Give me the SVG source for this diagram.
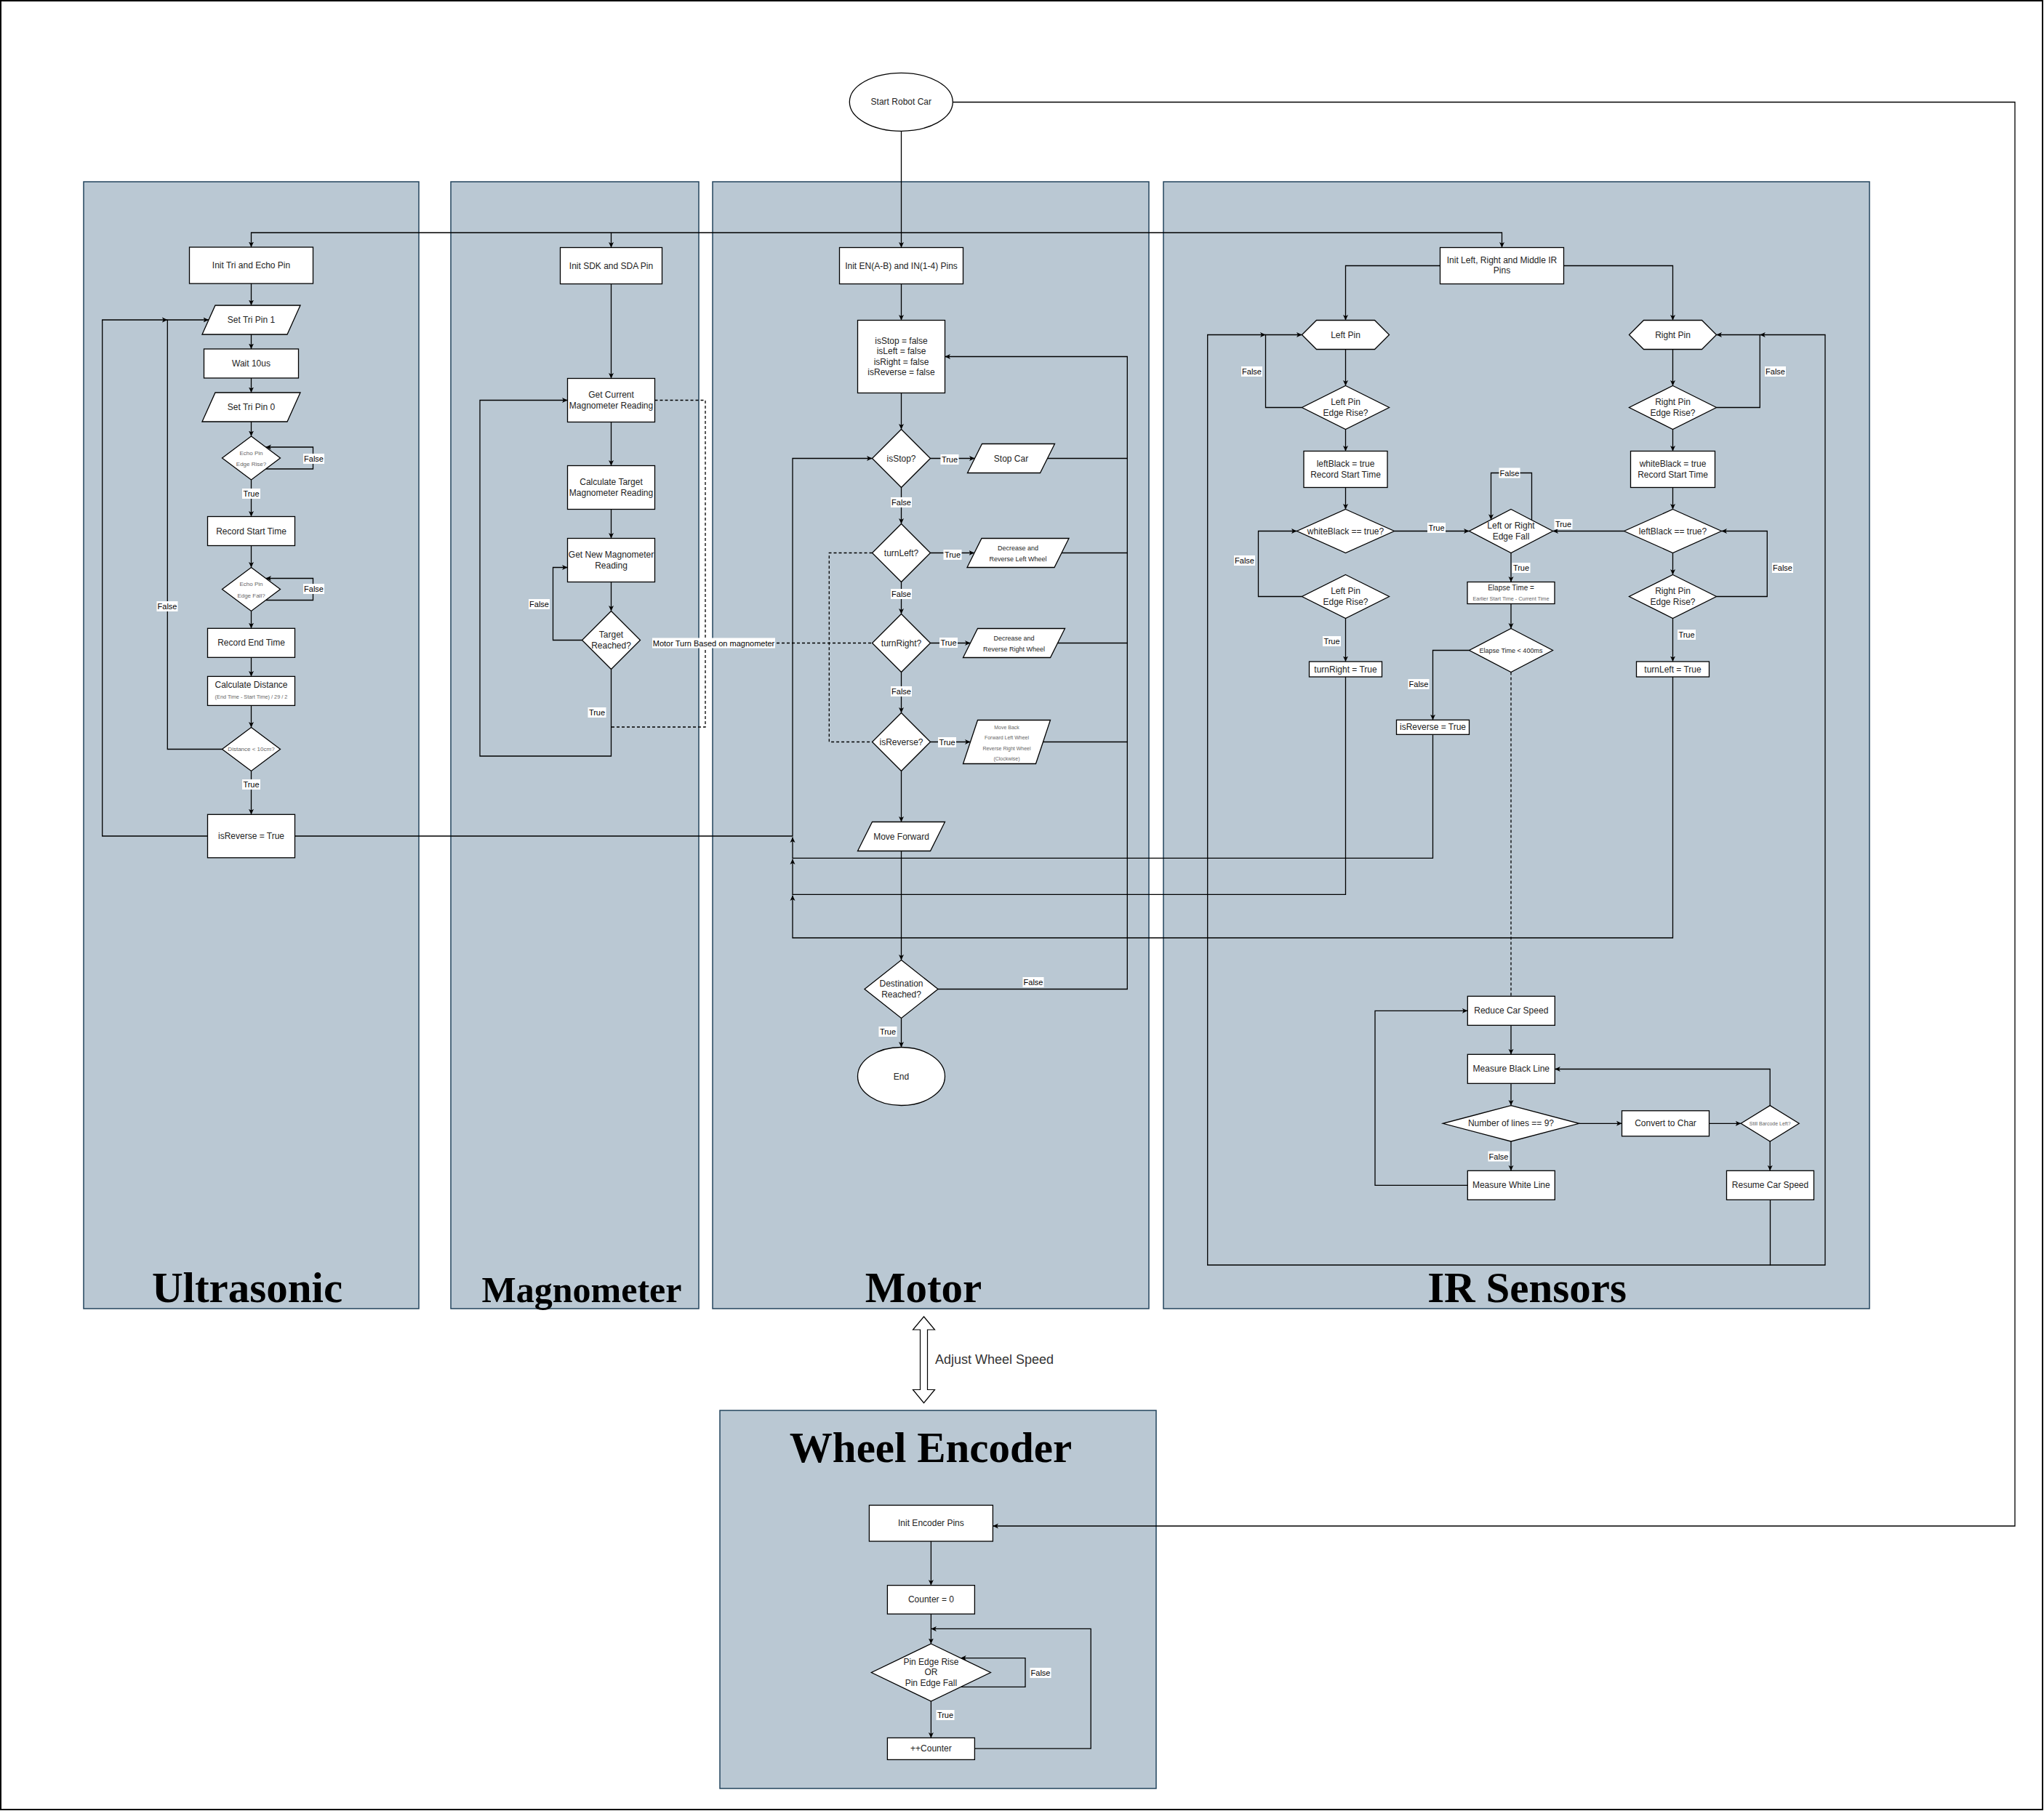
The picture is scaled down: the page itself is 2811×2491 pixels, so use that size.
<svg xmlns="http://www.w3.org/2000/svg" width="2811" height="2491" viewBox="0 0 2811 2491">
<defs>
<marker id="ah" viewBox="0 0 8 8" refX="7.5" refY="4" markerWidth="8" markerHeight="8" markerUnits="userSpaceOnUse" orient="auto">
<path d="M0,0.5 L7.5,4 L0,7.5 L2,4 z" fill="#000"/>
</marker>
<style>
.panel{fill:#bac8d3;stroke:#23445d;stroke-width:1.5}
.node{fill:#fff;stroke:#000;stroke-width:1.3}
.t{font-family:"Liberation Sans",Arial,sans-serif;font-size:12px;fill:#222;text-anchor:middle;dominant-baseline:central}
.g{fill:#666}
.s7{font-size:7px}
.s73{font-size:7.3px}
.s8{font-size:8px}
.s9{font-size:9px}
.s10{font-size:10px}
.e{fill:none;stroke:#000;stroke-width:1.3}
.a{marker-end:url(#ah)}
.d{stroke-dasharray:4 3}
.lb{fill:#fff}
.lt{font-family:"Liberation Sans",Arial,sans-serif;font-size:11px;fill:#000;text-anchor:middle;dominant-baseline:central}
.title{font-family:"Liberation Serif","Times New Roman",serif;font-weight:bold;fill:#000;text-anchor:middle}
</style>
</defs>
<rect x="0" y="0" width="2811" height="2491" fill="#fff"/>
<rect x="1" y="1" width="2808" height="2488" fill="none" stroke="#000" stroke-width="2"/>

<g id="panel-ultrasonic"><rect class="panel" x="115" y="250" width="461" height="1550"/><text class="title" x="340" y="1791" font-size="59">Ultrasonic</text></g>
<g id="panel-magnometer"><rect class="panel" x="620" y="250" width="341" height="1550"/><text class="title" x="800" y="1791" font-size="50">Magnometer</text></g>
<g id="panel-motor"><rect class="panel" x="980" y="250" width="600" height="1550"/><text class="title" x="1270" y="1791" font-size="59">Motor</text></g>
<g id="panel-ir"><rect class="panel" x="1600" y="250" width="971" height="1550"/><text class="title" x="2100" y="1791" font-size="59">IR Sensors</text></g>
<g id="panel-encoder"><rect class="panel" x="990" y="1940" width="600" height="520"/><text class="title" x="1280" y="2011" font-size="59">Wheel Encoder</text></g>

<g id="connectors">
<path class="e a" d="M1239.5,180 V340.5"/>
<path class="e a" d="M1239.5,320 H345.5 V340"/>
<path class="e a" d="M840.5,320 V340.5"/>
<path class="e a" d="M1239.5,320 H2065.5 V340.5"/>
<path class="e a" d="M1310.3,140.5 H2771 V2099 H1365.4"/>
<!-- ultrasonic -->
<path class="e a" d="M345.5,390 V420"/>
<path class="e a" d="M345.5,460 V480"/>
<path class="e a" d="M345.5,520 V540"/>
<path class="e a" d="M345.5,580 V600"/>
<path class="e a" d="M365.5,645 H430.5 V615 H365.5"/>
<path class="e a" d="M345.5,660 V710.5"/>
<path class="e a" d="M345.5,750.5 V780.5"/>
<path class="e a" d="M365.5,825.5 H430.5 V795.5 H365.5"/>
<path class="e a" d="M345.5,840.5 V864.3"/>
<path class="e a" d="M345.5,904.3 V930.4"/>
<path class="e a" d="M345.5,970.4 V1000.5"/>
<path class="e a" d="M345.5,1060.5 V1120.3"/>
<path class="e a" d="M305.5,1030.5 H230.3 V440 H287"/>
<path class="e a" d="M285.3,1150 H140.7 V440 H230.3"/>
<path class="e a" d="M405.3,1150 H1090 V630.5 H1199.5"/>
<!-- magnometer -->
<path class="e a" d="M840.5,390.5 V520.5"/>
<path class="e a" d="M840.5,580.5 V640.5"/>
<path class="e a" d="M840.5,700.5 V740.5"/>
<path class="e a" d="M840.5,800.5 V840.5"/>
<path class="e a" d="M800.5,880.5 H760.5 V780.5 H780.5"/>
<path class="e a" d="M840.5,920.5 V1040 H660 V550.5 H780.5"/>
<path class="e d" d="M900.5,550.5 H970 V1000 H840.5"/>
<path class="e d" d="M970,884.5 H1199.5"/>
<!-- motor -->
<path class="e a" d="M1239.5,390.5 V440.5"/>
<path class="e a" d="M1239.5,540.5 V590.5"/>
<path class="e a" d="M1279.5,630.5 H1340.5"/>
<path class="e" d="M1440.5,630.5 H1550.3"/>
<path class="e a" d="M1239.5,670.5 V720.5"/>
<path class="e a" d="M1279.5,760.5 H1340"/>
<path class="e" d="M1460,760.5 H1550.3"/>
<path class="e a" d="M1239.5,800.5 V844.5"/>
<path class="e a" d="M1279.5,884.5 H1334.5"/>
<path class="e" d="M1454.5,884.5 H1550.3"/>
<path class="e a" d="M1239.5,924.5 V980.5"/>
<path class="e a" d="M1279.5,1020.5 H1334.5"/>
<path class="e" d="M1434.5,1020.5 H1550.3"/>
<path class="e a" d="M1239.5,1060.5 V1130.5"/>
<path class="e a" d="M1239.5,1170.5 V1320.5"/>
<path class="e a" d="M1290,1360.5 H1550.3 V490.5 H1299.5"/>
<path class="e a" d="M1239.5,1400.5 V1440.5"/>
<path class="e d" d="M1199.5,760.5 H1140.3 V1020.5 H1199.5"/>
<!-- IR -->
<path class="e a" d="M1980.5,365.5 H1850.5 V440.5"/>
<path class="e a" d="M2150.5,365.5 H2300.5 V440.5"/>
<path class="e a" d="M1850.5,480.5 V530.5"/>
<path class="e a" d="M1790.5,560.5 H1740.5 V460.5 H1790.5"/>
<path class="e a" d="M1850.5,590.5 V620.5"/>
<path class="e a" d="M1850.5,670.5 V700.5"/>
<path class="e a" d="M1917.5,730.5 H2020.5"/>
<path class="e a" d="M1790.5,820.5 H1730.5 V730.5 H1783.5"/>
<path class="e a" d="M1850.5,850.5 V910"/>
<path class="e a" d="M1850.5,931 V1230.3 H1090 V1181.5"/>
<path class="e a" d="M2300.5,480.5 V530.5"/>
<path class="e a" d="M2360.5,560.5 H2420.3 V460.5 H2360.5"/>
<path class="e a" d="M2300.5,590.5 V620.5"/>
<path class="e a" d="M2300.5,670.5 V700.5"/>
<path class="e a" d="M2233.5,730.5 H2135.5"/>
<path class="e a" d="M2300.5,760.5 V790.5"/>
<path class="e a" d="M2360.5,820.5 H2430.3 V730.5 H2367.5"/>
<path class="e a" d="M2300.5,850.5 V910"/>
<path class="e a" d="M2300.5,931 V1290 H1090 V1231.5"/>
<path class="e a" d="M2106.5,715.3 V650.5 H2050.5 V714.7"/>
<path class="e a" d="M2078,760.5 V800.5"/>
<path class="e a" d="M2078,830.5 V864.5"/>
<path class="e a" d="M2020.5,894.5 H1970.5 V990.3"/>
<path class="e a" d="M1970.5,1010.3 V1180.3 H1090 V1151.5"/>
<path class="e d" d="M2078,924.5 V1370.3"/>
<path class="e a" d="M2078,1410.3 V1450.3"/>
<path class="e a" d="M2078,1490.3 V1520.6"/>
<path class="e a" d="M2171.6,1545.3 H2230.5"/>
<path class="e a" d="M2350.5,1545.3 H2394.2"/>
<path class="e a" d="M2434.2,1570 V1610.3"/>
<path class="e a" d="M2434.2,1520.6 V1470.5 H2138.3"/>
<path class="e a" d="M2078,1570 V1610.3"/>
<path class="e a" d="M2018.3,1630.3 H1891 V1390.3 H2018.3"/>
<path class="e a" d="M2434.5,1650.3 V1740 H1660.7 V460.5 H1740.5"/>
<path class="e a" d="M2434.5,1740 H2510 V460.5 H2420.3"/>
<!-- encoder -->
<path class="e a" d="M1280.4,2120 V2180.6"/>
<path class="e a" d="M1280.4,2220 V2261"/>
<path class="e a" d="M1321.2,2320.4 H1410 V2280.6 H1321.2"/>
<path class="e a" d="M1280.4,2340 V2390.4"/>
<path class="e a" d="M1340.3,2405.2 H1500.2 V2240.4 H1280.4"/>
<!-- adjust wheel speed -->
<polygon points="1270.5,1811 1285.5,1829 1275.5,1829 1275.5,1911.5 1285.5,1911.5 1270.5,1929.7 1255.5,1911.5 1265.5,1911.5 1265.5,1829 1255.5,1829" fill="#fff" stroke="#000" stroke-width="1.2"/>
<text x="1286" y="1870" font-family="Liberation Sans, Arial, sans-serif" font-size="18" fill="#333" dominant-baseline="central">Adjust Wheel Speed</text>
</g>

<g id="n-start"><ellipse class="node" cx="1239.3" cy="140.3" rx="71" ry="40"/><text class="t" x="1239.3" y="140">Start Robot Car</text></g>

<!-- Ultrasonic nodes -->
<g id="n-init-tri"><rect class="node" x="260.5" y="340" width="170" height="50"/><text class="t" x="345.5" y="365">Init Tri and Echo Pin</text></g>
<g id="n-set-tri-1"><polygon class="node" points="296,420 413,420 395,460 278,460"/><text class="t" x="345.5" y="440">Set Tri Pin 1</text></g>
<g id="n-wait"><rect class="node" x="280.5" y="480" width="130" height="40"/><text class="t" x="345.5" y="500">Wait 10us</text></g>
<g id="n-set-tri-0"><polygon class="node" points="296,540 413,540 395,580 278,580"/><text class="t" x="345.5" y="560">Set Tri Pin 0</text></g>
<g id="n-echo-rise"><polygon class="node" points="345.5,600 385.5,630 345.5,660 305.5,630"/><text class="t g s8" x="345.5" y="623">Echo Pin</text><text class="t g s8" x="345.5" y="638.5">Edge Rise?</text></g>
<g id="n-rec-start"><rect class="node" x="285.5" y="710.5" width="120" height="40"/><text class="t" x="345.5" y="730.5">Record Start Time</text></g>
<g id="n-echo-fall"><polygon class="node" points="345.5,780.5 385.5,810.5 345.5,840.5 305.5,810.5"/><text class="t g s8" x="345.5" y="803.5">Echo Pin</text><text class="t g s8" x="345.5" y="819">Edge Fall?</text></g>
<g id="n-rec-end"><rect class="node" x="285.5" y="864.3" width="120" height="40"/><text class="t" x="345.5" y="884.3">Record End Time</text></g>
<g id="n-calc-dist"><rect class="node" x="285.5" y="930.4" width="120" height="40"/><text class="t" x="345.5" y="942">Calculate Distance</text><text class="t g s73" x="345.5" y="958.6">(End Time - Start Time) / 29 / 2</text></g>
<g id="n-dist"><polygon class="node" points="345.5,1000.5 385.5,1030.5 345.5,1060.5 305.5,1030.5"/><text class="t g s8" x="345.5" y="1030.5">Distance &lt; 10cm?</text></g>
<g id="n-us-rev"><rect class="node" x="285.5" y="1120.3" width="120" height="59.5"/><text class="t" x="345.5" y="1150">isReverse = True</text></g>

<!-- Magnometer nodes -->
<g id="n-init-sdk"><rect class="node" x="770.5" y="340.5" width="140" height="50"/><text class="t" x="840.5" y="365.5">Init SDK and SDA Pin</text></g>
<g id="n-get-cur"><rect class="node" x="780.5" y="520.5" width="120" height="60"/><text class="t" x="840.5" y="543">Get Current</text><text class="t" x="840.5" y="557.5">Magnometer Reading</text></g>
<g id="n-calc-target"><rect class="node" x="780.5" y="640.5" width="120" height="60"/><text class="t" x="840.5" y="663">Calculate Target</text><text class="t" x="840.5" y="677.5">Magnometer Reading</text></g>
<g id="n-get-new"><rect class="node" x="780.5" y="740.5" width="120" height="60"/><text class="t" x="840.5" y="763">Get New Magnometer</text><text class="t" x="840.5" y="777.5">Reading</text></g>
<g id="n-target"><polygon class="node" points="840.5,840.5 880.5,880.5 840.5,920.5 800.5,880.5"/><text class="t" x="840.5" y="873">Target</text><text class="t" x="840.5" y="887.5">Reached?</text></g>

<!-- Motor nodes -->
<g id="n-init-en"><rect class="node" x="1154.5" y="340.5" width="170" height="50"/><text class="t" x="1239.5" y="365.5">Init EN(A-B) and IN(1-4) Pins</text></g>
<g id="n-flags"><rect class="node" x="1179.5" y="440.5" width="120" height="100"/><text class="t" x="1239.5" y="469">isStop = false</text><text class="t" x="1239.5" y="483.4">isLeft = false</text><text class="t" x="1239.5" y="497.8">isRight = false</text><text class="t" x="1239.5" y="512.2">isReverse = false</text></g>
<g id="n-isstop"><polygon class="node" points="1239.5,590.5 1279.5,630.5 1239.5,670.5 1199.5,630.5"/><text class="t" x="1239.5" y="630.5">isStop?</text></g>
<g id="n-stopcar"><polygon class="node" points="1350.5,610.5 1450.5,610.5 1430.5,650.5 1330.5,650.5"/><text class="t" x="1390.5" y="630.5">Stop Car</text></g>
<g id="n-turnleft"><polygon class="node" points="1239.5,720.5 1279.5,760.5 1239.5,800.5 1199.5,760.5"/><text class="t" x="1239.5" y="760.5">turnLeft?</text></g>
<g id="n-dec-left"><polygon class="node" points="1350,740.5 1470,740.5 1450,780.5 1330,780.5"/><text class="t s9" x="1400" y="753.7">Decrease and</text><text class="t s9" x="1400" y="768.7">Reverse Left Wheel</text></g>
<g id="n-turnright"><polygon class="node" points="1239.5,844.5 1279.5,884.5 1239.5,924.5 1199.5,884.5"/><text class="t" x="1239.5" y="884.5">turnRight?</text></g>
<g id="n-dec-right"><polygon class="node" points="1344.5,864.5 1464.5,864.5 1444.5,904.5 1324.5,904.5"/><text class="t s9" x="1394.5" y="877.8">Decrease and</text><text class="t s9" x="1394.5" y="892.8">Reverse Right Wheel</text></g>
<g id="n-isreverse"><polygon class="node" points="1239.5,980.5 1279.5,1020.5 1239.5,1060.5 1199.5,1020.5"/><text class="t" x="1239.5" y="1020.5">isReverse?</text></g>
<g id="n-moveback"><polygon class="node" points="1344.5,990.5 1444.5,990.5 1424.5,1050.5 1324.5,1050.5"/><text class="t g s7" x="1384.5" y="1000.4">Move Back</text><text class="t g s7" x="1384.5" y="1014.8">Forward Left Wheel</text><text class="t g s7" x="1384.5" y="1029.3">Reverse Right Wheel</text><text class="t g s7" x="1384.5" y="1043.6">(Clockwise)</text></g>
<g id="n-moveforward"><polygon class="node" points="1199.5,1130.5 1299.5,1130.5 1279.5,1170.5 1179.5,1170.5"/><text class="t" x="1239.5" y="1150.5">Move Forward</text></g>
<g id="n-dest"><polygon class="node" points="1239.5,1320.5 1290,1360.5 1239.5,1400.5 1189,1360.5"/><text class="t" x="1239.5" y="1353">Destination</text><text class="t" x="1239.5" y="1367.5">Reached?</text></g>
<g id="n-end"><ellipse class="node" cx="1239.5" cy="1480.5" rx="60" ry="40"/><text class="t" x="1239.5" y="1480.5">End</text></g>

<!-- IR nodes -->
<g id="n-init-ir"><rect class="node" x="1980.5" y="340.5" width="170" height="50"/><text class="t" x="2065.5" y="358">Init Left, Right and Middle IR</text><text class="t" x="2065.5" y="372.4">Pins</text></g>
<g id="n-leftpin"><polygon class="node" points="1790.5,460.5 1810.5,440.5 1890.5,440.5 1910.5,460.5 1890.5,480.5 1810.5,480.5"/><text class="t" x="1850.5" y="460.5">Left Pin</text></g>
<g id="n-lp-rise1"><polygon class="node" points="1850.5,530.5 1910.5,560.5 1850.5,590.5 1790.5,560.5"/><text class="t" x="1850.5" y="553">Left Pin</text><text class="t" x="1850.5" y="567.5">Edge Rise?</text></g>
<g id="n-leftblack"><rect class="node" x="1793" y="620.5" width="115" height="50"/><text class="t" x="1850.5" y="638">leftBlack = true</text><text class="t" x="1850.5" y="652.5">Record Start Time</text></g>
<g id="n-whiteblack-q"><polygon class="node" points="1850.5,700.5 1917.5,730.5 1850.5,760.5 1783.5,730.5"/><text class="t" x="1850.5" y="730.5">whiteBlack == true?</text></g>
<g id="n-lp-rise2"><polygon class="node" points="1850.5,790.5 1910.5,820.5 1850.5,850.5 1790.5,820.5"/><text class="t" x="1850.5" y="813">Left Pin</text><text class="t" x="1850.5" y="827.5">Edge Rise?</text></g>
<g id="n-turnright-true"><rect class="node" x="1800.5" y="910" width="100" height="21"/><text class="t" x="1850.5" y="920.5">turnRight = True</text></g>
<g id="n-rightpin"><polygon class="node" points="2240.5,460.5 2260.5,440.5 2340.5,440.5 2360.5,460.5 2340.5,480.5 2260.5,480.5"/><text class="t" x="2300.5" y="460.5">Right Pin</text></g>
<g id="n-rp-rise1"><polygon class="node" points="2300.5,530.5 2360.5,560.5 2300.5,590.5 2240.5,560.5"/><text class="t" x="2300.5" y="553">Right Pin</text><text class="t" x="2300.5" y="567.5">Edge Rise?</text></g>
<g id="n-whiteblack"><rect class="node" x="2242.5" y="620.5" width="116" height="50"/><text class="t" x="2300.5" y="638">whiteBlack = true</text><text class="t" x="2300.5" y="652.5">Record Start Time</text></g>
<g id="n-leftblack-q"><polygon class="node" points="2300.5,700.5 2367.5,730.5 2300.5,760.5 2233.5,730.5"/><text class="t" x="2300.5" y="730.5">leftBlack == true?</text></g>
<g id="n-rp-rise2"><polygon class="node" points="2300.5,790.5 2360.5,820.5 2300.5,850.5 2240.5,820.5"/><text class="t" x="2300.5" y="813">Right Pin</text><text class="t" x="2300.5" y="827.5">Edge Rise?</text></g>
<g id="n-turnleft-true"><rect class="node" x="2250.5" y="910" width="100" height="21"/><text class="t" x="2300.5" y="920.5">turnLeft = True</text></g>
<g id="n-edgefall"><polygon class="node" points="2078,700.5 2135.5,730.5 2078,760.5 2020.5,730.5"/><text class="t" x="2078" y="723">Left or Right</text><text class="t" x="2078" y="737.5">Edge Fall</text></g>
<g id="n-elapse"><rect class="node" x="2018" y="800.5" width="120" height="30"/><text class="t s10" x="2078" y="808.8">Elapse Time =</text><text class="t g s73" x="2078" y="823.8">Earlier Start Time - Current Time</text></g>
<g id="n-elapse-q"><polygon class="node" points="2078,864.5 2135.5,894.5 2078,924.5 2020.5,894.5"/><text class="t s9" x="2078" y="894.5">Elapse Time &lt; 400ms</text></g>
<g id="n-ir-rev"><rect class="node" x="1920.5" y="990.3" width="100" height="20"/><text class="t" x="1970.5" y="1000.3">isReverse = True</text></g>
<g id="n-reduce"><rect class="node" x="2018.3" y="1370.3" width="120" height="40"/><text class="t" x="2078.3" y="1390.3">Reduce Car Speed</text></g>
<g id="n-black"><rect class="node" x="2018.3" y="1450.3" width="120" height="40"/><text class="t" x="2078.3" y="1470.3">Measure Black Line</text></g>
<g id="n-lines9"><polygon class="node" points="2078,1520.6 2171.6,1545.3 2078,1570 1984.4,1545.3"/><text class="t" x="2078" y="1545.3">Number of lines == 9?</text></g>
<g id="n-white"><rect class="node" x="2018.3" y="1610.3" width="120" height="40"/><text class="t" x="2078.3" y="1630.3">Measure White Line</text></g>
<g id="n-char"><rect class="node" x="2230.5" y="1527.8" width="120" height="35"/><text class="t" x="2290.5" y="1545.3">Convert to Char</text></g>
<g id="n-still"><polygon class="node" points="2434.2,1520.6 2474.2,1545.3 2434.2,1570 2394.2,1545.3"/><text class="t g s7" x="2434.2" y="1545.3">Still Barcode Left?</text></g>
<g id="n-resume"><rect class="node" x="2374.5" y="1610.3" width="120" height="40"/><text class="t" x="2434.5" y="1630.3">Resume Car Speed</text></g>

<!-- Encoder nodes -->
<g id="n-init-enc"><rect class="node" x="1195.4" y="2070.4" width="170" height="49.6"/><text class="t" x="1280.4" y="2095">Init Encoder Pins</text></g>
<g id="n-counter0"><rect class="node" x="1220.4" y="2180.6" width="120" height="39.4"/><text class="t" x="1280.4" y="2200.3">Counter = 0</text></g>
<g id="n-edge-q"><polygon class="node" points="1280.4,2261 1362.4,2300.5 1280.4,2340 1198.4,2300.5"/><text class="t" x="1280.4" y="2285.5">Pin Edge Rise</text><text class="t" x="1280.4" y="2299.5">OR</text><text class="t" x="1280.4" y="2314.5">Pin Edge Fall</text></g>
<g id="n-inc"><rect class="node" x="1220.4" y="2390.4" width="120" height="30"/><text class="t" x="1280.4" y="2405.4">++Counter</text></g>

<g id="edge-labels">
<rect class="lb" x="417" y="624" width="29" height="14"/><text class="lt" x="431.5" y="631">False</text>
<rect class="lb" x="333" y="672" width="25" height="14"/><text class="lt" x="345.5" y="679">True</text>
<rect class="lb" x="417" y="803" width="29" height="14"/><text class="lt" x="431.5" y="810">False</text>
<rect class="lb" x="215.5" y="827" width="29" height="14"/><text class="lt" x="230" y="834">False</text>
<rect class="lb" x="333" y="1072" width="25" height="14"/><text class="lt" x="345.5" y="1079">True</text>
<rect class="lb" x="727" y="824" width="29" height="14"/><text class="lt" x="741.5" y="831">False</text>
<rect class="lb" x="808.5" y="973" width="25" height="14"/><text class="lt" x="821" y="980">True</text>
<rect class="lb" x="897" y="877.5" width="169" height="14"/><text class="lt" x="981.5" y="884.5">Motor Turn Based on magnometer</text>
<rect class="lb" x="1293.5" y="625" width="25" height="14"/><text class="lt" x="1306" y="632">True</text>
<rect class="lb" x="1225" y="684" width="29" height="14"/><text class="lt" x="1239.5" y="691">False</text>
<rect class="lb" x="1297.5" y="756" width="25" height="14"/><text class="lt" x="1310" y="763">True</text>
<rect class="lb" x="1225" y="810" width="29" height="14"/><text class="lt" x="1239.5" y="817">False</text>
<rect class="lb" x="1292" y="877" width="25" height="14"/><text class="lt" x="1304.5" y="884">True</text>
<rect class="lb" x="1225" y="944" width="29" height="14"/><text class="lt" x="1239.5" y="951">False</text>
<rect class="lb" x="1290" y="1014" width="25" height="14"/><text class="lt" x="1302.5" y="1021">True</text>
<rect class="lb" x="1406.5" y="1344" width="29" height="14"/><text class="lt" x="1421" y="1351">False</text>
<rect class="lb" x="1208.5" y="1412" width="25" height="14"/><text class="lt" x="1221" y="1419">True</text>
<rect class="lb" x="1707" y="504" width="29" height="14"/><text class="lt" x="1721.5" y="511">False</text>
<rect class="lb" x="1963" y="719" width="25" height="14"/><text class="lt" x="1975.5" y="726">True</text>
<rect class="lb" x="1697" y="764" width="29" height="14"/><text class="lt" x="1711.5" y="771">False</text>
<rect class="lb" x="1819" y="875" width="25" height="14"/><text class="lt" x="1831.5" y="882">True</text>
<rect class="lb" x="2061.5" y="643.5" width="29" height="14"/><text class="lt" x="2076" y="650.5">False</text>
<rect class="lb" x="2137.5" y="714" width="25" height="14"/><text class="lt" x="2150" y="721">True</text>
<rect class="lb" x="2079.5" y="774" width="25" height="14"/><text class="lt" x="2092" y="781">True</text>
<rect class="lb" x="1936.5" y="934" width="29" height="14"/><text class="lt" x="1951" y="941">False</text>
<rect class="lb" x="2427" y="504" width="29" height="14"/><text class="lt" x="2441.5" y="511">False</text>
<rect class="lb" x="2437" y="774" width="29" height="14"/><text class="lt" x="2451.5" y="781">False</text>
<rect class="lb" x="2307" y="866" width="25" height="14"/><text class="lt" x="2319.5" y="873">True</text>
<rect class="lb" x="2046.5" y="1583.5" width="29" height="14"/><text class="lt" x="2061" y="1590.5">False</text>
<rect class="lb" x="1416.5" y="2294" width="29" height="14"/><text class="lt" x="1431" y="2301">False</text>
<rect class="lb" x="1287.5" y="2352" width="25" height="14"/><text class="lt" x="1300" y="2359">True</text>
</g>
</svg>
